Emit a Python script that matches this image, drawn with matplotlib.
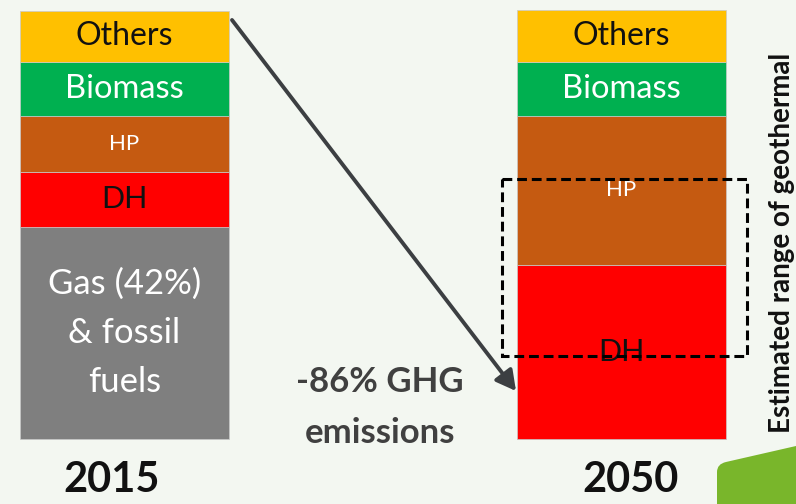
import matplotlib
matplotlib.use("Agg")
import matplotlib.pyplot as plt
from matplotlib.patches import Rectangle, PathPatch
from matplotlib.path import Path
from matplotlib.transforms import Affine2D

plt.rcParams['font.family'] = ['Lato', 'DejaVu Sans']

# Heat supply mix (share of total, %)
years = ["2015", "2050"]
segments = ["Gas & fossil fuels", "DH", "HP", "Biomass", "Others"]
gas_fossil = [49.5, 0.0]
dh = [12.8, 40.5]
hp = [13.0, 34.9]
biomass = [12.6, 12.6]
others = [12.1, 12.0]
segment_labels = ["Gas (42%)\n& fossil\nfuels", "DH", "HP", "Biomass", "Others"]
ghg_change = "-86% GHG"
side_note = "Estimated range of geothermal"

colors = ["#7f7f7f", "#ff0000", "#c55a11", "#00b050", "#ffc000"]
text_colors = ["white", "#111111", "white", "white", "#111111"]
text_sizes = [25, 22, 16, 23.5, 23]

W, H = 796, 504
bg = "#f3f7f1"
fig = plt.figure(figsize=(W / 100, H / 100), dpi=100, facecolor=bg)
ax = fig.add_axes([0, 0, 1, 1])
ax.set_facecolor(bg)

# pixel-space transform (origin at top-left)
pix = Affine2D().scale(1 / W, -1 / H).translate(0, 1) + fig.transFigure

# place bar centres / extents on the canvas
c0, c1 = 124.5, 621.0
span = c1 - c0
ax.set_xlim(-c0 / span, (W - c0) / span)
bot_px, top_px = 438.5, 10.5
ppu = (bot_px - top_px) / 100.0
ax.set_ylim(-(H - bot_px) / ppu, 100 + top_px / ppu)
ax.axis("off")

x = [0, 1]
width = 209 / span
series = [gas_fossil, dh, hp, biomass, others]
bottoms = [0.0, 0.0]
for i, vals in enumerate(series):
    ax.bar(x, vals, width=width, bottom=bottoms, color=colors[i],
           edgecolor="#c9c9c9", linewidth=0.5, zorder=2)
    for j in range(2):
        if vals[j] > 0:
            ax.text(x[j], bottoms[j] + vals[j] / 2, segment_labels[i],
                    ha="center", va="center", color=text_colors[i],
                    fontsize=text_sizes[i], linespacing=1.65, zorder=4)
    bottoms = [bottoms[k] + vals[k] for k in range(2)]

# year labels
for xp, yr in zip([111.5, 631.0], years):
    fig.text(xp, 492, yr, transform=pix, ha="center", va="baseline",
             fontsize=30, fontweight="bold", color="#111111")

# emissions arrow
ax.annotate("", xy=(516, 391), xytext=(232, 20), xycoords=pix, textcoords=pix,
            arrowprops=dict(arrowstyle="-|>,head_length=1.2,head_width=0.65",
                            color="#3c3f42", lw=2.8, shrinkA=0, shrinkB=0),
            zorder=5)

fig.text(380, 392, ghg_change, transform=pix, ha="center", va="baseline",
         fontsize=25, fontweight="bold", color="#404040")
fig.text(380, 443, "emissions", transform=pix, ha="center", va="baseline",
         fontsize=25, fontweight="bold", color="#404040")

# dashed range box over 2050 bar
box = Rectangle((502, 179), 245, 177, transform=pix, fill=False,
                edgecolor="black", linewidth=2.2, linestyle=(0, (3.2, 1.6)),
                zorder=6)
fig.add_artist(box)

# side note
fig.text(790, 433, side_note, transform=pix, rotation=90,
         rotation_mode="anchor", ha="left", va="baseline",
         fontsize=20, fontweight="bold", color="#111111")

# green corner shape
verts = [(717, 504), (717, 472), (717, 464), (726, 462), (796, 446),
         (796, 504), (717, 504)]
codes = [Path.MOVETO, Path.LINETO, Path.CURVE3, Path.CURVE3, Path.LINETO,
         Path.LINETO, Path.CLOSEPOLY]
shape = PathPatch(Path(verts, codes), transform=pix, facecolor="#79b62b",
                  edgecolor="none")
fig.add_artist(shape)

fig.savefig("out.png", dpi=100, facecolor=bg)
